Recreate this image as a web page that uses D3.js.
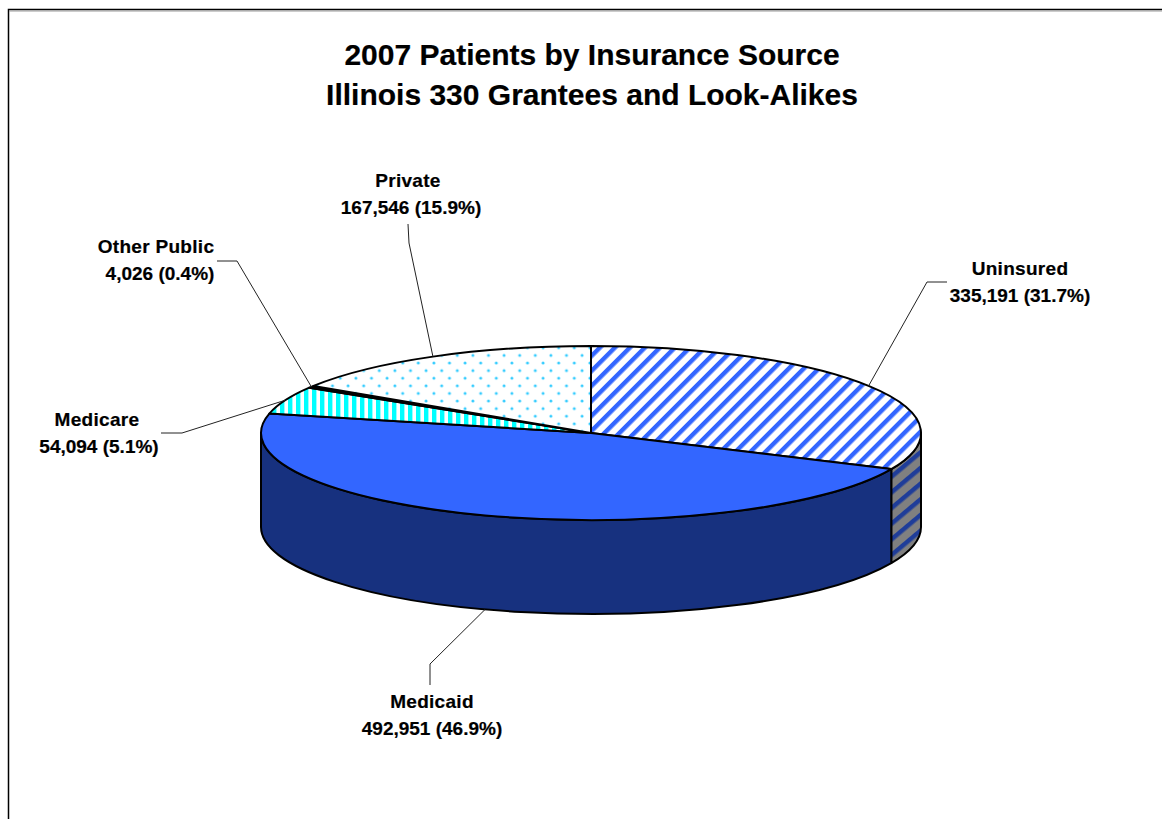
<!DOCTYPE html>
<html>
<head>
<meta charset="utf-8">
<script src="https://cdn.jsdelivr.net/npm/d3@7"></script>
<style>
  html, body { margin: 0; padding: 0; background: #fff; }
  svg { display: block; }
  text { font-family: "Liberation Sans", Arial, sans-serif; font-weight: bold; fill: #000; stroke: #000; stroke-width: 0.2px; }
</style>
</head>
<body>
<div id="chart"></div>
<script>
const categories = ["Uninsured", "Medicaid", "Medicare", "Other Public", "Private"];
const patients = [335191, 492951, 54094, 4026, 167546];
const valueLabels = ["335,191 (31.7%)", "492,951 (46.9%)", "54,094 (5.1%)", "4,026 (0.4%)", "167,546 (15.9%)"];
const titleLines = ["2007 Patients by Insurance Source", "Illinois 330 Grantees and Look-Alikes"];

const width = 1162;
const height = 819;

// pie geometry (flattened ellipse plus wall depth)
const cx = 591, cy = 433, rx = 330, ry = 87, depth = 94;

const svg = d3.select("#chart").append("svg")
    .attr("width", width)
    .attr("height", height)
    .attr("viewBox", `0 0 ${width} ${height}`);

const defs = svg.append("defs");

function stripes(id, size, band, angle, bg, fg) {
    const p = defs.append("pattern")
        .attr("id", id)
        .attr("patternUnits", "userSpaceOnUse")
        .attr("width", size)
        .attr("height", size)
        .attr("patternTransform", `rotate(${angle})`);
    p.append("rect").attr("width", size).attr("height", size).attr("fill", bg);
    p.append("rect").attr("width", band).attr("height", size).attr("fill", fg);
}
stripes("p-uninsured", 10.6, 4.4, 45, "#fff", "#3366ff");
stripes("p-uninsured-side", 12, 4.5, 50, "#808080", "#1f3d99");
stripes("p-medicare", 8, 4.4, 0, "#fff", "#00ffff");

const dots = defs.append("pattern")
    .attr("id", "p-private")
    .attr("patternUnits", "userSpaceOnUse")
    .attr("width", 15.6)
    .attr("height", 15.2)
    .attr("x", 1)
    .attr("y", 2);
dots.append("rect").attr("width", 15.6).attr("height", 15.2).attr("fill", "#fff");
dots.append("circle").attr("cx", 3.9).attr("cy", 3.8).attr("r", 1.5).attr("fill", "#33ccff");
dots.append("circle").attr("cx", 11.7).attr("cy", 11.4).attr("r", 1.5).attr("fill", "#33ccff");

// fills per slice, same order as categories
const topFills = ["url(#p-uninsured)", "#3366ff", "url(#p-medicare)", "#000", "url(#p-private)"];
const sideFills = ["url(#p-uninsured-side)", "#17317f"];

const pie = d3.pie().sort(null).value(d => d);
const arcs = pie(patients);

const px = a => cx + rx * Math.sin(a);
const py = a => cy - ry * Math.cos(a);

function topPath(d) {
    const large = d.endAngle - d.startAngle > Math.PI ? 1 : 0;
    return `M${cx},${cy}L${px(d.startAngle)},${py(d.startAngle)}` +
        `A${rx},${ry} 0 ${large} 1 ${px(d.endAngle)},${py(d.endAngle)}Z`;
}

function sidePath(a0, a1) {
    return `M${px(a0)},${py(a0)}A${rx},${ry} 0 0 1 ${px(a1)},${py(a1)}` +
        `L${px(a1)},${py(a1) + depth}A${rx},${ry} 0 0 0 ${px(a0)},${py(a0) + depth}Z`;
}

// frame, only top and left are inside the picture
svg.append("path")
    .attr("d", `M8.5,${height}V9.5H${width}`)
    .attr("fill", "none")
    .attr("stroke", "#000")
    .attr("stroke-width", 1.5);
svg.append("line")
    .attr("x1", 9).attr("x2", width)
    .attr("y1", 11).attr("y2", 11)
    .attr("stroke", "#999");

// walls: only the part of the rim facing the viewer
const walls = [
    { a0: Math.PI / 2, a1: arcs[0].endAngle, fill: sideFills[0] },
    { a0: arcs[1].startAngle, a1: Math.PI * 1.5, fill: sideFills[1] }
];
svg.append("g")
    .selectAll("path")
    .data(walls)
    .join("path")
    .attr("d", d => sidePath(d.a0, d.a1))
    .attr("fill", d => d.fill)
    .attr("stroke", "#000")
    .attr("stroke-width", 2)
    .attr("stroke-linejoin", "round");

// top of the pie
svg.append("g")
    .selectAll("path")
    .data(arcs)
    .join("path")
    .attr("d", topPath)
    .attr("fill", (d, i) => topFills[i])
    .attr("stroke", "#000")
    .attr("stroke-width", 2)
    .attr("stroke-linejoin", "round");

// label placement: name centre, value centre, baseline, and the two bend points of the leader
const labelPos = [
    { x: 1020, vx: 1020, y: 275, bend: [927, 282], end: [947, 282] },
    { x: 432, vx: 432, y: 708, bend: [430, 664], end: [430, 685], wall: true },
    { x: 97, vx: 99, y: 426, bend: [182, 433], end: [161, 433] },
    { x: 156, vx: 160, y: 253, bend: [237, 261], end: [217, 261] },
    { x: 408, vx: 411, y: 187, bend: [409, 243], end: [408, 224] }
];

const leader = d3.line();
svg.append("g")
    .selectAll("path")
    .data(arcs)
    .join("path")
    .attr("d", (d, i) => {
        const mid = (d.startAngle + d.endAngle) / 2;
        const pos = labelPos[i];
        return leader([[px(mid), py(mid) + (pos.wall ? depth : 0)], pos.bend, pos.end]);
    })
    .attr("fill", "none")
    .attr("stroke", "#222")
    .attr("stroke-width", 1);

const labels = svg.append("g")
    .selectAll("text")
    .data(categories)
    .join("text")
    .attr("text-anchor", "middle")
    .attr("font-size", 19);
labels.append("tspan")
    .attr("x", (d, i) => labelPos[i].x)
    .attr("y", (d, i) => labelPos[i].y)
    .attr("letter-spacing", 0.3)
    .text(d => d);
labels.append("tspan")
    .attr("x", (d, i) => labelPos[i].vx)
    .attr("y", (d, i) => labelPos[i].y + 27)
    .text((d, i) => valueLabels[i]);

svg.append("g")
    .selectAll("text")
    .data(titleLines)
    .join("text")
    .attr("x", 592)
    .attr("y", (d, i) => 65 + i * 40)
    .attr("text-anchor", "middle")
    .attr("font-size", 30)
    .text(d => d);
</script>
</body>
</html>
